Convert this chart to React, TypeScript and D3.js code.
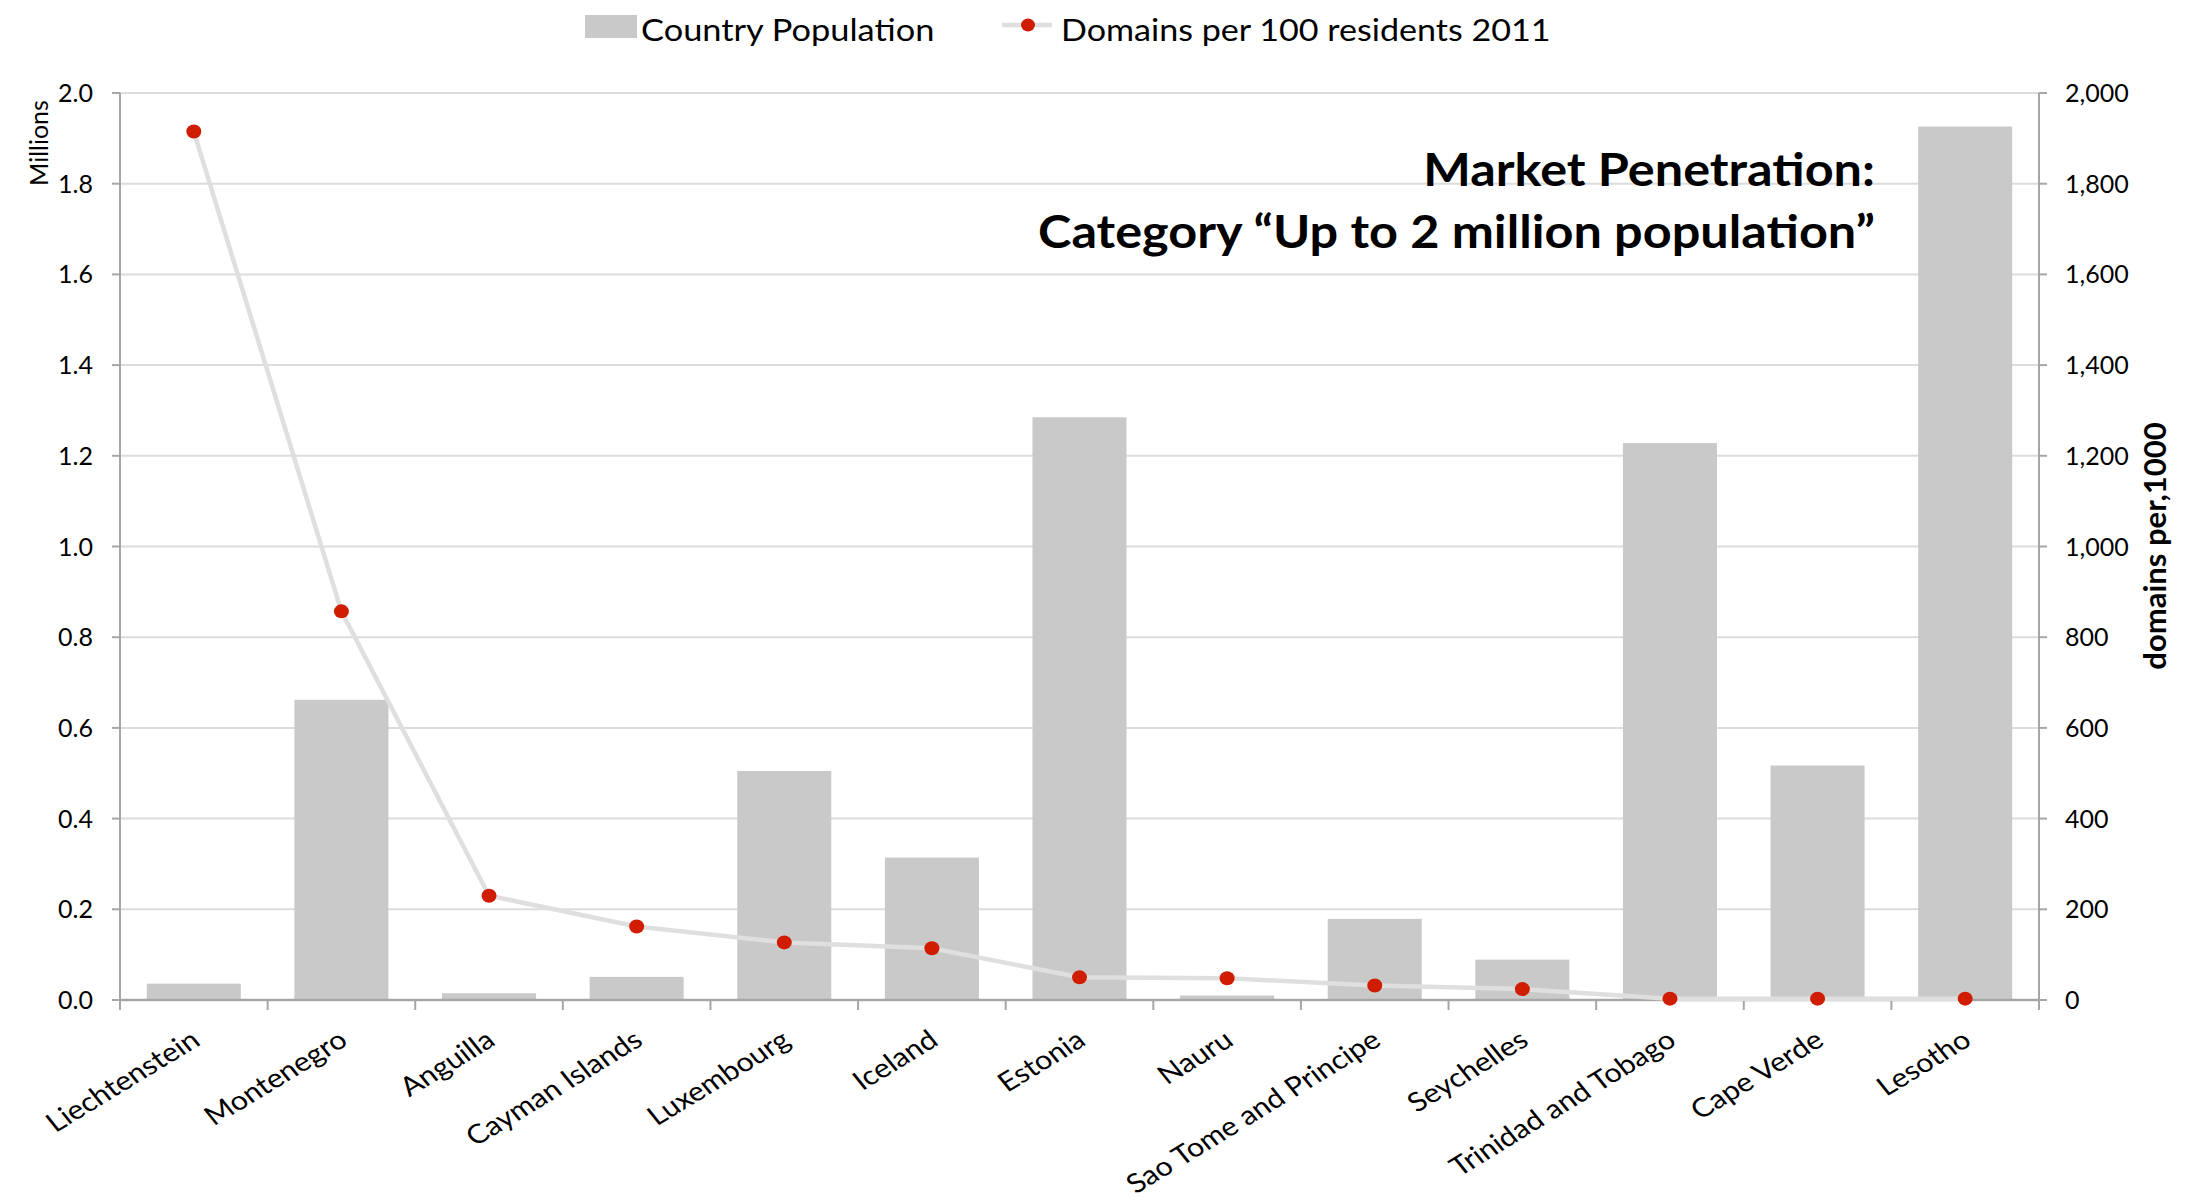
import React from 'react';
import * as d3 from 'd3';

const categories = [
  'Liechtenstein', 'Montenegro', 'Anguilla', 'Cayman Islands', 'Luxembourg', 'Iceland',
  'Estonia', 'Nauru', 'Sao Tome and Principe', 'Seychelles', 'Trinidad and Tobago',
  'Cape Verde', 'Lesotho',
];
const population = [0.036, 0.662, 0.015, 0.051, 0.505, 0.314, 1.285, 0.010, 0.179, 0.089, 1.228, 0.517, 1.926];
const domainsPer1000 = [1915, 857, 230, 162, 127, 114, 50, 48, 32, 24, 3, 3, 3];
const leftTicks = [0, 0.2, 0.4, 0.6, 0.8, 1.0, 1.2, 1.4, 1.6, 1.8, 2.0];
const rightTicks = [0, 200, 400, 600, 800, 1000, 1200, 1400, 1600, 1800, 2000];
const barLegend = 'Country Population';
const lineLegend = 'Domains per 100 residents 2011';
const titleLines = ['Market Penetration:', 'Category \u201CUp to 2 million population\u201D'];
const leftTitle = 'Millions';
const rightTitle = 'domains per,1000';

const W = 2194, H = 1204;
const plotL = 120, plotR = 2039, plotT = 93, plotB = 1000;
const FONT = "Lato, 'Open Sans', sans-serif";
const AXIS = '#a6a6a6';
const GRID = '#dcdcdc';
const BAR = '#c9c9c9';
const LINE = '#dfdfdf';
const DOT = '#d01c00';
const SX = 1.12;

export default function App() {
  const x = d3.scaleBand<string>().domain(categories).range([plotL, plotR]).paddingInner(0.363).paddingOuter(0.1815);
  const yL = d3.scaleLinear().domain([0, 2]).range([plotB, plotT]);
  const yR = d3.scaleLinear().domain([0, 2000]).range([plotB, plotT]);
  const cx = (c: string) => (x(c) as number) + x.bandwidth() / 2;
  const lineGen = d3.line<number>().x((_, i) => cx(categories[i])).y((d) => yR(d));
  const boundaries = d3.range(categories.length + 1).map((i) => plotL + i * (plotR - plotL) / categories.length);

  return (
    <div style={{ position: 'absolute', left: 0, top: 0 }}>
      <svg width={W} height={H} style={{ display: 'block', background: '#fff' }} fontFamily={FONT}>
        {leftTicks.map((t) => (
          <line key={'g' + t} x1={plotL} x2={plotR} y1={yL(t)} y2={yL(t)} stroke={GRID} strokeWidth={2} />
        ))}
        {categories.map((c, i) => (
          <rect key={c} x={x(c)} y={yL(population[i])} width={x.bandwidth()} height={plotB - yL(population[i])} fill={BAR} />
        ))}
        <line x1={plotL} x2={plotL} y1={plotT} y2={plotB} stroke={AXIS} strokeWidth={2} />
        <line x1={plotR} x2={plotR} y1={plotT} y2={plotB} stroke={AXIS} strokeWidth={2} />
        <line x1={plotL} x2={plotR} y1={plotB} y2={plotB} stroke={AXIS} strokeWidth={2.5} />
        {leftTicks.map((t) => (
          <g key={'l' + t}>
            <line x1={plotL - 8} x2={plotL} y1={yL(t)} y2={yL(t)} stroke={AXIS} strokeWidth={2} />
            <text x={93} y={yL(t)} dy="0.36em" textAnchor="end" fontSize={25} fill="#000">{d3.format('.1f')(t)}</text>
          </g>
        ))}
        {rightTicks.map((t) => (
          <g key={'r' + t}>
            <line x1={plotR} x2={plotR + 8} y1={yR(t)} y2={yR(t)} stroke={AXIS} strokeWidth={2} />
            <text x={2065} y={yR(t)} dy="0.36em" textAnchor="start" fontSize={25} fill="#000">{d3.format(',')(t)}</text>
          </g>
        ))}
        {boundaries.map((b, i) => (
          <line key={'b' + i} x1={b} x2={b} y1={plotB} y2={plotB + 10} stroke={AXIS} strokeWidth={2} />
        ))}
        <path d={lineGen(domainsPer1000) || ''} fill="none" stroke={LINE} strokeWidth={4.5} />
        {categories.map((c, i) => (
          <ellipse key={'d' + c} cx={cx(c)} cy={yR(domainsPer1000[i])} rx={7.5} ry={7} fill={DOT} />
        ))}
        {categories.map((c) => (
          <text key={'t' + c} transform={`translate(${cx(c) + 8},${1044}) scale(1.15,1) rotate(-35)`} textAnchor="end" fontSize={26.5} fill="#000">{c}</text>
        ))}
        <text transform="translate(48,143) rotate(-90)" textAnchor="middle" fontSize={25} fill="#000">{leftTitle}</text>
        <text transform="translate(2166,546) rotate(-90)" textAnchor="middle" fontSize={31} fontWeight="bold" fill="#000">{rightTitle}</text>
        <text transform={`translate(1875,186) scale(${SX},1)`} textAnchor="end" fontSize={45} fontWeight="bold" fill="#000">{titleLines[0]}</text>
        <text transform={`translate(1875,248) scale(${SX},1)`} textAnchor="end" fontSize={45} fontWeight="bold" fill="#000">{titleLines[1]}</text>
        <rect x={585} y={15} width={52} height={23} fill={BAR} />
        <text transform={`translate(641,41) scale(1.11,1)`} fontSize={31} fill="#000">{barLegend}</text>
        <line x1={1002} x2={1052} y1={25} y2={25} stroke={LINE} strokeWidth={4.5} />
        <ellipse cx={1028} cy={25} rx={7} ry={6.5} fill={DOT} />
        <text transform={`translate(1061,41) scale(1.1,1)`} fontSize={31} fill="#000">{lineLegend}</text>
      </svg>
    </div>
  );
}
